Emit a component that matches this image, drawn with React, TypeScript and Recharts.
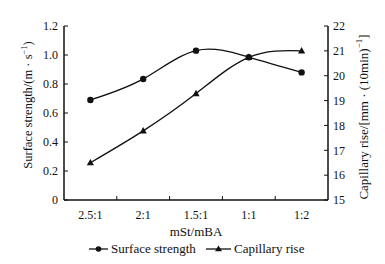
import { LineChart, Line, XAxis, YAxis } from "recharts"

const ratios = ["2.5:1", "2:1", "1.5:1", "1:1", "1:2"]
const surfaceStrength = [0.69, 0.835, 1.03, 0.985, 0.88]
const capillaryRise = [16.5, 17.78, 19.28, 20.74, 21.0]
const leftTicks = [0, 0.2, 0.4, 0.6, 0.8, 1.0, 1.2]
const rightTicks = [15, 16, 17, 18, 19, 20, 21, 22]

const data = ratios.map((r, i) => ({
  ratio: r,
  strength: surfaceStrength[i],
  rise: capillaryRise[i],
}))

const FONT = "'Liberation Serif', 'Times New Roman', serif"
const INK = "#111"

function CatTick(props: any) {
  const { x, y, payload, index } = props
  const half = payload.offset || 26.4
  return (
    <g>
      <text x={x} y={y + 19} textAnchor="middle" fontFamily={FONT} fontSize={12} fill={INK}>
        {payload.value}
      </text>
      {index < ratios.length - 1 && (
        <line x1={x + half} x2={x + half} y1={y - 4} y2={y} stroke={INK} strokeWidth={1} />
      )}
    </g>
  )
}

function Triangle(props: any) {
  const { cx, cy } = props
  if (cx == null || cy == null) return null
  return <path d={`M${cx},${cy - 3.8}L${cx + 3.6},${cy + 2.6}L${cx - 3.6},${cy + 2.6}Z`} fill={INK} />
}

function Circle(props: any) {
  const { cx, cy } = props
  if (cx == null || cy == null) return null
  return <circle cx={cx} cy={cy} r={3.2} fill={INK} />
}

function LegendRow() {
  return (
    <svg width={385} height={20} style={{ position: "absolute", left: 0, top: 239 }}>
      <line x1={89} x2={108} y1={10} y2={10} stroke={INK} strokeWidth={1.3} />
      <circle cx={98.5} cy={10} r={2.8} fill={INK} />
      <text x={111} y={14} fontFamily={FONT} fontSize={13} fill={INK}>Surface strength</text>
      <line x1={206} x2={231} y1={10} y2={10} stroke={INK} strokeWidth={1.3} />
      <path d="M218.5,6.5L222,12.2L215,12.2Z" fill={INK} />
      <text x={234} y={14} fontFamily={FONT} fontSize={13} fill={INK}>Capillary rise</text>
    </svg>
  )
}

export default function App() {
  return (
    <div style={{ position: "absolute", left: 0, top: 0, width: 385, height: 264, background: "#fff" }}>
      <LineChart
        width={385}
        height={264}
        data={data}
        margin={{ top: 26, right: 0, bottom: 0, left: 0 }}
      >
        <XAxis
          dataKey="ratio"
          scale="band"
          height={64}
          tickSize={0}
          tickMargin={0}
          tickLine={false}
          axisLine={{ stroke: INK, strokeWidth: 1.5 }}
          tick={<CatTick />}
          interval={0}
          label={({ viewBox }: any) => (
            <text
              x={viewBox.x + viewBox.width / 2}
              y={viewBox.y + 36}
              textAnchor="middle"
              fontFamily={FONT}
              fontSize={13}
              fill={INK}
            >
              mSt/mBA
            </text>
          )}
        />
        <YAxis
          yAxisId="left"
          width={64}
          domain={[0, 1.2]}
          ticks={leftTicks}
          tickSize={-4}
          tickMargin={10}
          interval={0}
          tickFormatter={(v: number) => (v === 0 ? "0" : v.toFixed(1))}
          tick={{ fontFamily: FONT, fontSize: 12, fill: INK }}
          axisLine={{ stroke: INK, strokeWidth: 1.5 }}
          tickLine={{ stroke: INK }}
          label={({ viewBox }: any) => {
            const cx = 28
            const cy = viewBox.y + viewBox.height / 2 - 8
            return (
              <text
                x={cx}
                y={cy}
                transform={`rotate(-90 ${cx} ${cy})`}
                textAnchor="middle"
                dominantBaseline="central"
                fontFamily={FONT}
                fontSize={12.5}
                fill={INK}
              >
                Surface strength/(m · s
                <tspan dy={-4} fontSize={8.5}>−1</tspan>
                <tspan dy={4}>)</tspan>
              </text>
            )
          }}
        />
        <YAxis
          yAxisId="right"
          orientation="right"
          width={57}
          domain={[15, 22]}
          ticks={rightTicks}
          tickSize={-4}
          tickMargin={9}
          interval={0}
          tick={{ fontFamily: FONT, fontSize: 12, fill: INK }}
          axisLine={{ stroke: INK, strokeWidth: 1.5 }}
          tickLine={{ stroke: INK }}
          label={({ viewBox }: any) => {
            const cx = 363
            const cy = viewBox.y + viewBox.height / 2 + 4
            return (
              <text
                x={cx}
                y={cy}
                transform={`rotate(-90 ${cx} ${cy})`}
                textAnchor="middle"
                dominantBaseline="central"
                fontFamily={FONT}
                fontSize={13}
                fill={INK}
              >
                Capillary rise/[mm · (10min)
                <tspan dy={-4} fontSize={9}>−1</tspan>
                <tspan dy={4}>]</tspan>
              </text>
            )
          }}
        />
        <Line
          yAxisId="left"
          type="natural"
          dataKey="strength"
          stroke={INK}
          strokeWidth={1.3}
          dot={<Circle />}
          activeDot={false}
          isAnimationActive={false}
        />
        <Line
          yAxisId="right"
          type="natural"
          dataKey="rise"
          stroke={INK}
          strokeWidth={1.3}
          dot={<Triangle />}
          activeDot={false}
          isAnimationActive={false}
        />
      </LineChart>
      <LegendRow />
    </div>
  )
}
